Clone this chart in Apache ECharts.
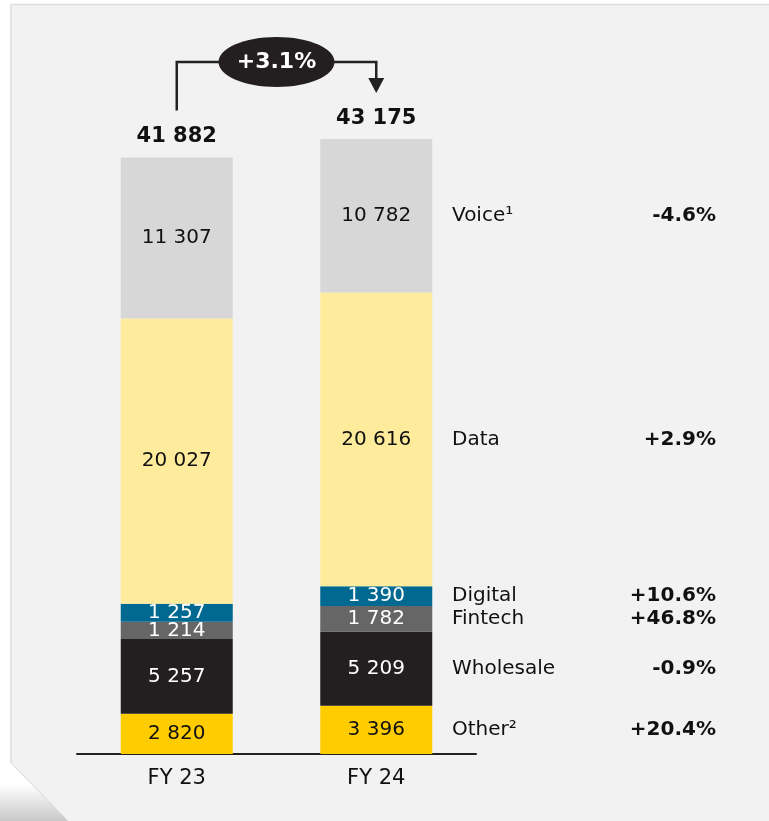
<!DOCTYPE html>
<html>
<head>
<meta charset="utf-8">
<script src="https://cdn.jsdelivr.net/npm/echarts@6/dist/echarts.min.js"></script>
<style>
html,body{margin:0;padding:0;background:#ffffff;}
#chart{width:769px;height:821px;}
</style>
</head>
<body>
<div id="chart"></div>
<script>
// ---- data ----
var categories = ['FY 23', 'FY 24'];
var segmentNames = ['Other²', 'Wholesale', 'Fintech', 'Digital', 'Data', 'Voice¹'];
var otherValues = [2820, 3396];
var wholesaleValues = [5257, 5209];
var fintechValues = [1214, 1782];
var digitalValues = [1257, 1390];
var dataValues = [20027, 20616];
var voiceValues = [11307, 10782];
var totals = [41882, 43175];
var growthLabels = ['+20.4%', '-0.9%', '+46.8%', '+10.6%', '+2.9%', '-4.6%'];
var totalGrowth = '+3.1%';

var FONT = '"DejaVu Sans", "Noto Sans", sans-serif';
var segmentValues = [otherValues, wholesaleValues, fintechValues, digitalValues, dataValues, voiceValues];
var segmentColors = ['#ffcc00', '#231f20', '#666666', '#006991', '#ffeb9c', '#d7d7d7'];
var labelColors = ['#111111', '#ffffff', '#ffffff', '#ffffff', '#111111', '#111111'];

function fmt(v) { return String(v).replace(/\B(?=(\d{3})+(?!\d))/g, ' '); }

var series = [];
segmentValues.forEach(function (vals, i) {
  series.push({
    type: 'bar', stack: 'rev', xAxisIndex: 0, yAxisIndex: 0,
    barWidth: 112, data: vals,
    itemStyle: { color: segmentColors[i] },
    label: { show: true, position: 'inside', formatter: function (p) { return fmt(p.value); },
      color: labelColors[i], fontFamily: FONT, fontSize: 20 }
  });
  // right-hand column: legend name + growth, aligned with FY 24 segment
  series.push({
    type: 'bar', stack: 'side', xAxisIndex: 1, yAxisIndex: 1,
    barWidth: 264, data: [vals[1]],
    itemStyle: { color: 'rgba(0,0,0,0)' },
    label: { show: true, position: 'inside',
      formatter: '{n|' + segmentNames[i] + '}{p|' + growthLabels[i] + '}',
      rich: {
        n: { width: 174, align: 'left', fontFamily: FONT, fontSize: 20, color: '#111111' },
        p: { width: 90, align: 'right', fontFamily: FONT, fontSize: 20, fontWeight: 'bold', color: '#111111' }
      } }
  });
});
// totals on top of stacks
series.push({
  type: 'bar', stack: 'rev', xAxisIndex: 0, yAxisIndex: 0, barWidth: 112,
  data: totals.map(function (t) { return { value: 0, total: t }; }),
  itemStyle: { color: 'rgba(0,0,0,0)' },
  label: { show: true, position: 'top', distance: 10,
    formatter: function (p) { return fmt(totals[p.dataIndex]); },
    color: '#111111', fontFamily: FONT, fontSize: 21, fontWeight: 'bold' }
});

var chart = echarts.init(document.getElementById('chart'), null, { renderer: 'canvas' });
var option = {
  backgroundColor: '#ffffff',
  animation: false,
  grid: [
    { left: 77, width: 399, top: 113, bottom: 67 },
    { left: 452, width: 264, top: 113, bottom: 67 }
  ],
  xAxis: [
    { type: 'category', gridIndex: 0, data: categories,
      axisLine: { lineStyle: { color: '#222222', width: 2 } }, axisTick: { show: false },
      axisLabel: { color: '#111111', fontFamily: FONT, fontSize: 21, margin: 14 } },
    { type: 'category', gridIndex: 1, data: [''], show: false }
  ],
  yAxis: [
    { type: 'value', gridIndex: 0, min: 0, max: 45000, show: false, splitLine: { show: false } },
    { type: 'value', gridIndex: 1, min: 0, max: 45000, show: false, splitLine: { show: false } }
  ],
  series: series
};
chart.setOption(option);

// background panel, folded corner, growth bracket
var x0 = chart.convertToPixel({ xAxisIndex: 0 }, categories[0]);
var x1 = chart.convertToPixel({ xAxisIndex: 0 }, categories[1]);
var y0 = chart.convertToPixel({ yAxisIndex: 0 }, totals[0]);
var y1 = chart.convertToPixel({ yAxisIndex: 0 }, totals[1]);
var lineBottom = y0 - 47;
var tipY = y1 - 46;
var topY = tipY - 31;
var midX = (x0 + x1) / 2;

chart.setOption({
  graphic: [
    { type: 'rect', z: -10, silent: true, shape: { x: 11, y: 4.5, width: 770, height: 830 },
      style: { fill: '#f2f2f2', stroke: '#dddddd', lineWidth: 1.5 } },
    { type: 'polygon', z: -9, silent: true,
      shape: { points: [[0, 755], [11, 763], [68, 821], [0, 821]] },
      style: { fill: new echarts.graphic.LinearGradient(0, 0, 0, 1, [
        { offset: 0, color: '#ffffff' }, { offset: 0.45, color: '#ffffff' }, { offset: 1, color: '#c9c9c9' }]) } },
    { type: 'line', z: -8, silent: true, shape: { x1: 11, y1: 763, x2: 68, y2: 821 },
      style: { stroke: '#d6d6d6', lineWidth: 1 } },
    { type: 'polyline', z: 10, silent: true,
      shape: { points: [[x0, lineBottom], [x0, topY], [x1, topY], [x1, tipY - 14]] },
      style: { stroke: '#222222', lineWidth: 2.5, fill: null } },
    { type: 'polygon', z: 10, silent: true,
      shape: { points: [[x1 - 8, tipY - 15], [x1 + 8, tipY - 15], [x1, tipY]] },
      style: { fill: '#222222' } },
    { type: 'ellipse', z: 11, silent: true,
      shape: { cx: midX, cy: topY, rx: 58, ry: 25 }, style: { fill: '#231f20' } },
    { type: 'text', z: 12, silent: true, x: midX, y: topY,
      style: { text: totalGrowth, fill: '#ffffff', font: 'bold 22px ' + FONT, align: 'center', verticalAlign: 'middle' } }
  ]
});
</script>
</body>
</html>
